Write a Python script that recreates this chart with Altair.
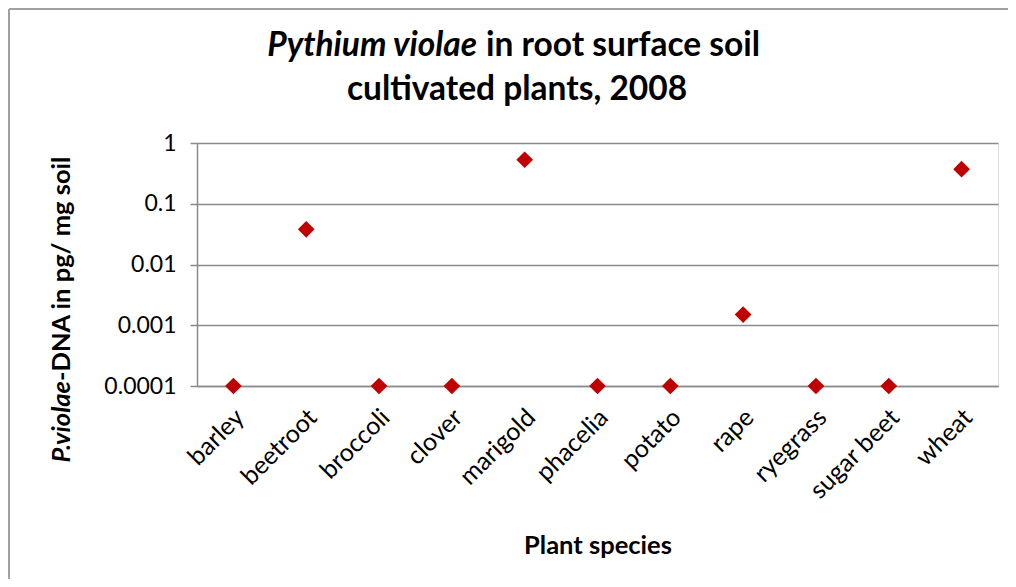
import altair as alt
import pandas as pd

species = ["barley", "beetroot", "broccoli", "clover", "marigold", "phacelia",
           "potato", "rape", "ryegrass", "sugar beet", "wheat"]
dna = [0.0001, 0.038, 0.0001, 0.0001, 0.53, 0.0001, 0.0001, 0.0015, 0.0001, 0.0001, 0.37]
y_ticks = [0.0001, 0.001, 0.01, 0.1, 1]

FONT = "Lato"
GRAY = "#8a8a8a"
W, H = 801, 243

df = pd.DataFrame({"species": species, "dna": dna})

points = alt.Chart(df).mark_point(
    shape="diamond", filled=True, color="#c00000", size=280, opacity=1
).encode(
    x=alt.X("species:N", sort=None,
            scale=alt.Scale(type="point", padding=0.5),
            axis=alt.Axis(labelAngle=-45, labelAlign="right", labelBaseline="middle",
                          labelPadding=27, labelOffset=6, labelFontSize=25,
                          labelFont=FONT, labelColor="black", ticks=False, grid=False,
                          domainColor=GRAY, domainWidth=1.5,
                          title="Plant species", titleFont=FONT, titleFontSize=25.5,
                          titleFontWeight="bold", titleColor="black",
                          titleY=167, titleBaseline="alphabetic")),
    y=alt.Y("dna:Q",
            scale=alt.Scale(type="log", domain=[0.0001, 1], nice=False),
            axis=alt.Axis(values=y_ticks, format="~g", title=None,
                          labelFont=FONT, labelFontSize=23, labelColor="black",
                          labelPadding=14, grid=True, gridColor=GRAY, gridWidth=1.5,
                          domainColor=GRAY, domainWidth=1.5, tickColor=GRAY,
                          tickWidth=1.5, tickSize=7)),
)

def txt(s, x, y, align, italic=False, size=30, angle=0):
    return alt.Chart(alt.Data(values=[{"t": s}])).mark_text(
        font=FONT, fontSize=size, fontWeight="bold",
        fontStyle="italic" if italic else "normal",
        align=align, baseline="alphabetic", angle=angle, color="black"
    ).encode(text="t:N", x=alt.value(x), y=alt.value(y))

title1a = txt("Pythium violae", 280, -87, "right", italic=True, size=33.5)
title1b = txt("in root surface soil", 289, -87, "left", size=33.5)
title2 = txt("cultivated plants, 2008", 320, -43, "center", size=33.5)
ytitle_a = txt("P.violae", -127, 238, "right", italic=True, size=25.5, angle=270)
ytitle_b = txt("-DNA in pg/ mg soil", -127, 238, "left", size=25.5, angle=270)

one = alt.Data(values=[{"a": 1}])
border_top = alt.Chart(one).mark_rule(color="#a0a0a0", strokeWidth=2).encode(
    x=alt.value(-188), x2=alt.value(1200), y=alt.value(-134))
border_left = alt.Chart(one).mark_rule(color="#a0a0a0", strokeWidth=2).encode(
    x=alt.value(-188), y=alt.value(-134), y2=alt.value(900))

chart = alt.layer(border_top, border_left, points, title1a, title1b, title2,
                  ytitle_a, ytitle_b).properties(
    width=W, height=H,
    autosize=alt.AutoSizeParams(type="none"),
    padding={"left": 189, "top": 135, "right": 10, "bottom": 193},
).configure_view(stroke=None).configure(background="white")

chart.save("out.html", embed_options={"renderer": "svg", "actions": False})
